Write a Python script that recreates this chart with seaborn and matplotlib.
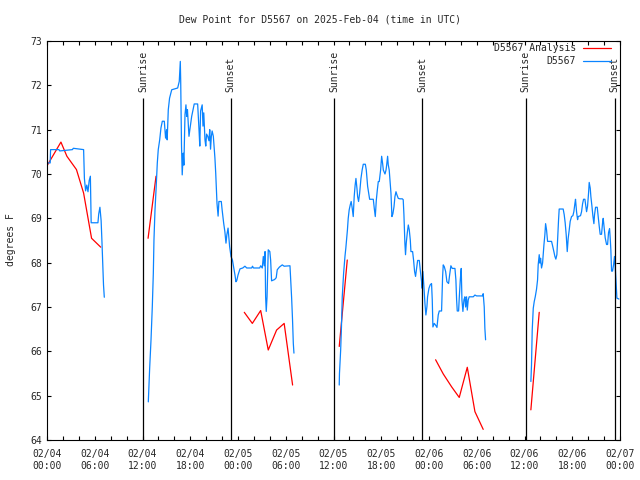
import matplotlib
matplotlib.use("Agg")
import matplotlib.pyplot as plt
import matplotlib.dates as mdates
from matplotlib.ticker import MultipleLocator
import pandas as pd
import seaborn as sns

start = pd.Timestamp("2025-02-04 00:00")

# hours after 02/04 00:00 UTC, dew point in F
obs_hours_1 = [0.1, 0.4, 0.45, 1.5, 1.6, 3.2, 3.3, 4.6, 4.7, 4.85, 5.0, 5.15, 5.3, 5.45, 5.55,
               6.4, 6.5, 6.65, 6.8, 6.9, 7.0, 7.1, 7.2]
obs_dew_1 = [70.25, 70.25, 70.55, 70.55, 70.52, 70.55, 70.58, 70.55, 69.9, 69.62, 69.75, 69.6, 69.85,
             69.95, 68.9, 68.9, 69.1, 69.25, 68.95, 68.5, 68.0, 67.5, 67.22]

obs_hours_2 = [12.73, 12.9, 13.07, 13.23, 13.36, 13.44, 13.57, 13.7, 13.86, 13.98, 14.16, 14.32, 14.49,
               14.74, 14.9, 15.03, 15.1, 15.24, 15.4, 15.67, 16.42, 16.62, 16.75, 16.8, 16.9, 16.99,
               17.12, 17.2, 17.34, 17.46, 17.55, 17.65, 17.84, 17.95, 18.18, 18.5, 18.93, 19.1, 19.2,
               19.3, 19.5, 19.6, 19.7, 19.85, 19.95, 20.05, 20.2, 20.35, 20.45, 20.55, 20.65, 20.75,
               20.9, 21.1, 21.2, 21.36, 21.5, 21.6, 21.9, 22.0, 22.2, 22.35, 22.49, 22.6, 22.75, 22.95,
               23.12, 23.3, 23.45, 23.62, 23.74, 23.85, 24.0, 24.25, 24.6, 24.87, 25.1, 25.72, 25.82,
               25.95, 26.72, 26.85, 27.05, 27.18, 27.3, 27.4, 27.47, 27.55, 27.65, 27.8, 28.0, 28.1,
               28.22, 28.6, 28.8, 28.93, 29.2, 29.56, 29.8, 30.53, 30.6, 30.74, 30.85, 30.95, 31.03]
obs_dew_2 = [64.86, 65.62, 66.26, 67.0, 67.76, 68.51, 69.19, 69.64, 70.25, 70.55, 70.77, 71.04, 71.19,
             71.19, 70.81, 71.0, 70.77, 71.45, 71.71, 71.9, 71.94, 72.09, 72.54, 72.1, 70.66, 69.98,
             70.47, 70.2, 71.34, 71.56, 71.3, 71.45, 70.85, 71.0, 71.3, 71.58, 71.58, 71.0, 70.63,
             71.42, 71.56, 71.08, 71.38, 70.77, 70.63, 70.9, 70.85, 70.75, 71.0, 70.56, 70.85, 70.97,
             70.85, 70.36, 70.02, 69.34, 69.05, 69.38, 69.38, 69.2, 68.89, 68.7, 68.44, 68.63, 68.78,
             68.36, 68.14, 68.06, 67.9, 67.72, 67.57, 67.6, 67.72, 67.86, 67.88, 67.92, 67.88, 67.88,
             67.92, 67.88, 67.88, 67.93, 67.88, 68.14, 67.93, 68.25, 67.23, 66.9, 67.23, 68.29, 68.25,
             68.06, 67.59, 67.62, 67.66, 67.84, 67.9, 67.95, 67.92, 67.93, 67.69, 67.2, 66.72, 66.18,
             65.96]

obs_hours_3 = [36.72, 36.75, 36.9, 37.0, 37.1, 37.27, 37.44, 37.55, 37.64, 37.75, 37.85, 37.97, 38.1,
               38.22, 38.35, 38.48, 38.6, 38.72, 38.82, 38.95, 39.03, 39.15, 39.28, 39.45, 39.6, 39.74,
               40.0, 40.12, 40.29, 40.45, 40.54, 41.0, 41.12, 41.25, 41.38, 41.5, 41.63, 41.75, 41.92,
               42.05, 42.17, 42.26, 42.47, 42.6, 42.68, 42.8, 42.88, 43.0, 43.13, 43.22, 43.34, 43.46,
               43.6, 43.72, 43.85, 43.97, 44.14, 44.35, 44.65, 44.76, 44.85, 44.97, 45.05, 45.14, 45.27,
               45.4, 45.52, 45.65, 45.73, 45.94, 46.06, 46.19, 46.31, 46.44, 46.57, 46.78, 46.9, 47.07,
               47.15, 47.23, 47.36, 47.49, 47.61, 47.74, 47.82, 47.99, 48.15, 48.32, 48.41, 48.49,
               48.66, 48.87, 49.0, 49.16, 49.29, 49.58, 49.71, 49.79, 49.92, 50.09, 50.25, 50.46, 50.59,
               50.75, 50.92, 51.26, 51.38, 51.47, 51.55, 51.72, 51.8, 51.93, 52.05, 52.14, 52.26, 52.39,
               52.51, 52.6, 52.72, 52.81, 52.93, 53.05, 53.56, 53.77, 53.98, 54.73, 54.81, 54.94, 55.02,
               55.11]
obs_dew_3 = [65.24, 65.5, 66.03, 66.55, 67.23, 67.76, 68.14, 68.33, 68.51, 68.74, 69.0, 69.19, 69.3,
             69.38, 69.23, 69.04, 69.49, 69.75, 69.9, 69.67, 69.49, 69.38, 69.56, 69.9, 70.09, 70.22,
             70.22, 70.09, 69.72, 69.53, 69.43, 69.43, 69.23, 69.04, 69.41, 69.63, 69.83, 69.83, 70.09,
             70.4, 70.24, 70.09, 70.0, 70.09, 70.2, 70.4, 70.21, 70.09, 69.79, 69.57, 69.04, 69.1,
             69.26, 69.49, 69.6, 69.53, 69.45, 69.44, 69.44, 69.42, 69.08, 68.44, 68.18, 68.44, 68.67,
             68.85, 68.74, 68.51, 68.25, 68.25, 68.06, 67.8, 67.69, 67.88, 68.05, 68.05, 67.84, 67.57,
             67.42, 67.8, 67.46, 67.08, 66.82, 67.01, 67.23, 67.42, 67.5, 67.53, 67.16, 66.55,
             66.63, 66.58, 66.54, 66.82, 66.91, 66.91, 67.69, 67.95, 67.91, 67.8, 67.57, 67.53, 67.72,
             67.93, 67.87, 67.87, 67.61, 67.16, 66.91, 66.91, 67.2, 67.61, 67.87, 67.16, 66.9, 67.16,
             67.23, 67.0, 67.23, 66.93, 67.16, 67.23, 67.23, 67.27, 67.25, 67.25, 67.3, 67.0, 66.52,
             66.26]

obs_hours_4 = [60.8, 60.88, 60.97, 61.1, 61.22, 61.35, 61.51, 61.64, 61.72, 61.85, 61.93, 62.02, 62.14,
               62.27, 62.35, 62.44, 62.56, 62.65, 62.77, 62.9, 63.4, 63.53, 63.69, 63.82, 63.94, 64.07,
               64.15, 64.28, 64.36, 64.86, 64.99, 65.11, 65.24, 65.37, 65.49, 65.62, 65.74, 65.91, 66.08,
               66.2, 66.33, 66.41, 66.54, 66.67, 66.75, 67.04, 67.17, 67.3, 67.42, 67.59, 67.71, 67.8,
               67.92, 68.05, 68.13, 68.26, 68.34, 68.47, 68.59, 68.72, 68.8, 68.93, 69.14, 69.26, 69.39,
               69.51, 69.68, 69.81, 69.89, 70.02, 70.14, 70.31, 70.44, 70.56, 70.69, 70.77, 70.85, 70.94,
               71.06, 71.19, 71.31, 71.4, 71.48, 71.61, 71.86]
obs_dew_4 = [65.32, 65.69, 66.48, 66.97, 67.12, 67.23, 67.4, 67.61, 67.95, 68.18, 67.99, 68.1, 67.88,
             67.99, 68.18, 68.4, 68.63, 68.88, 68.74, 68.48, 68.48, 68.38, 68.25, 68.14, 68.08, 68.18,
             68.48, 68.97, 69.21, 69.21, 69.08, 68.9, 68.63, 68.25, 68.55, 68.74, 68.93, 69.04, 69.06,
             69.15, 69.33, 69.43, 69.15, 68.97, 69.04, 69.06, 69.15, 69.33, 69.43, 69.43, 69.27, 69.15,
             69.27, 69.57, 69.81, 69.68, 69.49, 69.28, 69.06, 68.88, 69.08, 69.25, 69.25, 69.04, 68.82,
             68.64, 68.64, 68.9, 69.0, 68.77, 68.56, 68.41, 68.41, 68.68, 68.77, 68.55, 68.29, 67.81,
             67.81, 67.95, 68.14, 67.91, 67.65, 67.2, 67.18]

ana_hours_1 = [0.05, 1.75, 2.5, 3.7, 4.6, 5.6, 6.75]
ana_dew_1 = [70.2, 70.72, 70.4, 70.1, 69.57, 68.55, 68.35]
ana_hours_2 = [12.7, 13.7]
ana_dew_2 = [68.55, 69.95]
ana_hours_3 = [24.79, 25.8, 26.85, 27.8, 28.85, 29.8, 30.86]
ana_dew_3 = [66.88, 66.63, 66.92, 66.03, 66.48, 66.63, 65.24]
ana_hours_4 = [36.72, 37.73]
ana_dew_4 = [66.11, 68.06]
ana_hours_5 = [48.83, 49.79, 50.84, 51.8, 52.81, 53.77, 54.81]
ana_dew_5 = [65.81, 65.49, 65.2, 64.96, 65.64, 64.64, 64.24]
ana_hours_6 = [60.8, 61.85]
ana_dew_6 = [64.68, 66.88]

sunrise_hours = [12.1, 36.1, 60.15]
sunset_hours = [23.08, 47.15, 71.35]


def frame(segments, name):
    parts = []
    for i, (h, v) in enumerate(segments):
        parts.append(pd.DataFrame({"time": start + pd.to_timedelta(h, unit="h"),
                                   "dew": v, "seg": i, "series": name}))
    return pd.concat(parts, ignore_index=True)


ana = frame([(ana_hours_1, ana_dew_1), (ana_hours_2, ana_dew_2), (ana_hours_3, ana_dew_3),
             (ana_hours_4, ana_dew_4), (ana_hours_5, ana_dew_5), (ana_hours_6, ana_dew_6)],
            "D5567 Analysis")
obs = frame([(obs_hours_1, obs_dew_1), (obs_hours_2, obs_dew_2), (obs_hours_3, obs_dew_3),
             (obs_hours_4, obs_dew_4)], "D5567")
df = pd.concat([ana, obs], ignore_index=True)

sns.set_style("ticks")
plt.rcParams["font.family"] = ["DejaVu Sans Mono"]
plt.rcParams["font.size"] = 7

fig = plt.figure(figsize=(6.4, 4.8), dpi=100)
ax = fig.add_axes([47 / 640, 40 / 480, 573 / 640, 399 / 480])

sns.lineplot(data=df, x="time", y="dew", hue="series", units="seg", estimator=None, sort=False,
             hue_order=["D5567 Analysis", "D5567"],
             palette={"D5567 Analysis": "#ff0000", "D5567": "#0a84ff"},
             linewidth=0.9, ax=ax)

for h in sunrise_hours + sunset_hours:
    t = start + pd.Timedelta(hours=h)
    ax.vlines(t, 64, 71.72, color="black", linewidth=0.9)
for h, name in [(h, "Sunrise") for h in sunrise_hours] + [(h, "Sunset") for h in sunset_hours]:
    ax.text(start + pd.Timedelta(hours=h), 71.86, name, rotation=90, ha="center", va="bottom",
            fontsize=7)

ax.set_xlim(start, start + pd.Timedelta(hours=72))
ax.set_ylim(64, 73)
ax.yaxis.set_major_locator(MultipleLocator(1))
ax.xaxis.set_major_locator(mdates.HourLocator(byhour=range(0, 24, 6)))
ax.xaxis.set_minor_locator(mdates.HourLocator(byhour=range(0, 24, 2)))
ax.xaxis.set_major_formatter(mdates.DateFormatter("%m/%d\n%H:%M"))
ax.tick_params(which="both", direction="in", top=True, right=True, length=3, width=0.8,
               color="black", labelsize=7)
ax.tick_params(axis="x", pad=6.5)
ax.tick_params(axis="y", pad=3.5)
for s in ax.spines.values():
    s.set_linewidth(0.8)
    s.set_color("black")
ax.set_xlabel("")
ax.set_ylabel("")

sns.move_legend(ax, "upper right", bbox_to_anchor=(611 / 640, 1 - 43 / 480),
                bbox_transform=fig.transFigure, title=None, frameon=False, markerfirst=False,
                borderaxespad=0, borderpad=0, handlelength=2.9, handletextpad=0.7,
                labelspacing=0.35, fontsize=7)

fig.text(0.5, 1 - 19 / 480, "Dew Point for D5567 on 2025-Feb-04 (time in UTC)",
         ha="center", va="center", fontsize=7)
fig.text(11 / 640, 0.5, "degrees F", rotation=90, ha="center", va="center", fontsize=7)

fig.savefig("out.png", dpi=100)
